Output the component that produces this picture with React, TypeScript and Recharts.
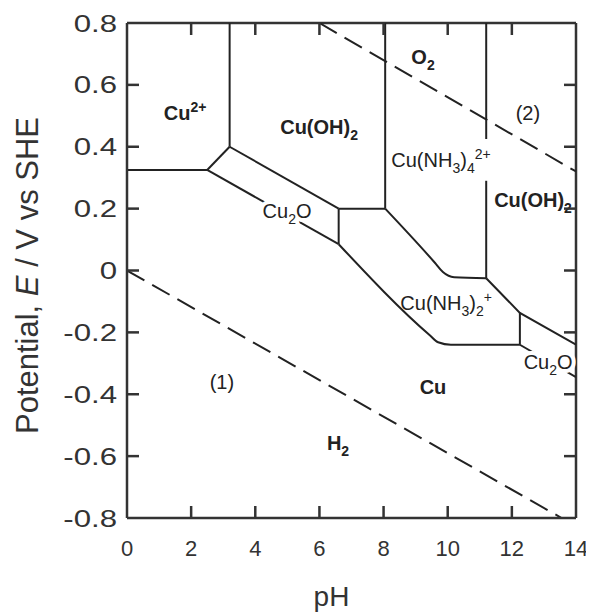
import React from "react"
import { ComposedChart, Line, Scatter, XAxis, YAxis, ReferenceLine } from "recharts"

const phTicks = [0, 2, 4, 6, 8, 10, 12, 14]
const eTicks = [-0.8, -0.6, -0.4, -0.2, 0, 0.2, 0.4, 0.6, 0.8]

// phase boundaries, [pH, E]
const cu2VsCuOH2 = [[3.2, 0.8], [3.2, 0.4]]
const cu2VsCu = [[0, 0.325], [2.5, 0.325]]
const cu2VsCu2O = [[2.5, 0.325], [3.2, 0.4]]
const cuOH2VsCu2O = [[3.2, 0.4], [6.6, 0.2]]
const cu2OVsCu = [[2.5, 0.325], [6.6, 0.085]]
const cu2OVsAm1 = [[6.6, 0.085], [6.6, 0.2]]
const cuOH2VsAm1 = [[6.6, 0.2], [8.05, 0.2]]
const cuOH2VsAm4 = [[8.05, 0.2], [8.05, 0.8]]
const am4VsAm1 = [[8.05, 0.2], [9.6, 0.025], [9.85, -0.005], [10.2, -0.022], [11.2, -0.025]]
const am4VsCuOH2Top = [[11.2, 0.8], [11.2, 0.425]]
const am4VsCuOH2Low = [[11.2, 0.29], [11.2, -0.025]]
const cuOH2VsAm1Right = [[11.2, -0.025], [12.25, -0.137], [14, -0.24]]
const cu2OVsAm1Right = [[12.25, -0.137], [12.25, -0.24]]
const am1VsCu = [[6.6, 0.085], [9.45, -0.21], [9.7, -0.232], [10.1, -0.24], [12.25, -0.24]]
const cu2OVsCuRight = [[12.25, -0.24], [14, -0.345]]

// water stability limits (dashed)
const h2Line = [[0, 0], [13.55, -0.8]]
const o2Line = [[6.0, 0.8], [14, 0.32]]

const solidLines = [
  cu2VsCuOH2, cu2VsCu, cu2VsCu2O, cuOH2VsCu2O, cu2OVsCu, cu2OVsAm1, cuOH2VsAm1,
  cuOH2VsAm4, am4VsCuOH2Top, am4VsCuOH2Low, cuOH2VsAm1Right, cu2OVsAm1Right,
  cu2OVsCuRight,
]
const curvedLines = [am4VsAm1, am1VsCu]
const dashedLines = [h2Line, o2Line]

// region labels
const labelNames = [
  "Cu^{2+}", "Cu(OH)_2", "Cu_2O", "O_2", "(2)", "Cu(NH_3)_4^{2+}",
  "Cu(OH)_2", "Cu(NH_3)_2^+", "Cu_2O", "Cu", "(1)", "H_2",
]
const labelPh = [1.81, 5.99, 4.99, 9.23, 12.5, 9.79, 12.66, 9.95, 13.13, 9.54, 2.96, 6.58]
const labelE = [0.51, 0.464, 0.193, 0.69, 0.51, 0.357, 0.228, -0.104, -0.295, -0.376, -0.36, -0.557]

const toPts = (arr: number[][]) => arr.map(([ph, e]) => ({ ph, e }))
const labelData = labelNames.map((name, i) => ({ name, ph: labelPh[i], e: labelE[i] }))

const boldNames = new Set(["Cu^{2+}", "O_2", "Cu", "H_2", "Cu(OH)_2"])
const haloIdx = new Set([2, 8])

const INK = "#222"
const AXIS = "#333"

// layout
const W = 580
const H = 605
const MARGIN = { top: 15, right: 12, bottom: 0, left: 0 }
const Y_W = 119
const X_H = 95
const PLOT_L = MARGIN.left + Y_W
const PLOT_R = W - MARGIN.right
const PLOT_T = MARGIN.top
const PLOT_B = H - MARGIN.bottom - X_H
const TICK = 12

function splitName(name: string) {
  const out: { t: string; k: string }[] = []
  const re = /([_^])(\{[^}]*\}|.)/g
  let last = 0
  let m: RegExpExecArray | null
  while ((m = re.exec(name))) {
    if (m.index > last) out.push({ t: name.slice(last, m.index), k: "n" })
    out.push({ t: m[2].replace(/[{}]/g, ""), k: m[1] === "_" ? "sub" : "sup" })
    last = re.lastIndex
  }
  if (last < name.length) out.push({ t: name.slice(last), k: "n" })
  return out
}

const NameText = ({ x, y, name, halo }: any) => {
  const bits = splitName(name)
  let cur = 0
  return (
    <text
      x={x}
      y={y}
      textAnchor="middle"
      fontSize={20}
      fontWeight={boldNames.has(name) ? 700 : 400}
      fill={halo ? "#fff" : INK}
      stroke={halo ? "#fff" : "none"}
      strokeWidth={halo ? 8 : 0}
      strokeLinejoin="round"
    >
      {bits.map((b, i) => {
        const target = b.k === "sub" ? 6 : b.k === "sup" ? -8 : 0
        const dy = target - cur
        cur = target
        return (
          <tspan key={i} dy={dy} fontSize={b.k === "n" ? 20 : 14}>
            {b.t}
          </tspan>
        )
      })}
    </text>
  )
}

const SpeciesLabel = (props: any) => {
  const { cx, cy, payload, index } = props
  if (cx == null || cy == null) return null
  return (
    <g>
      {haloIdx.has(index) && <NameText x={cx} y={cy + 7} name={payload.name} halo />}
      <NameText x={cx} y={cy + 7} name={payload.name} />
    </g>
  )
}

// inward ticks on bottom and top, labels under the plot
const PhTick = (props: any) => {
  const { x, payload } = props
  const v = payload.value
  const inner = v > 0 && v < 14
  return (
    <g>
      {inner && <line x1={x} x2={x} y1={PLOT_B} y2={PLOT_B - TICK} stroke={AXIS} strokeWidth={2.5} />}
      {inner && <line x1={x} x2={x} y1={PLOT_T} y2={PLOT_T + TICK} stroke={AXIS} strokeWidth={2.5} />}
      <text x={x} y={PLOT_B + 38} textAnchor="middle" fontSize={22} fill={AXIS}>
        {v}
      </text>
    </g>
  )
}

// inward ticks on left and right, labels drawn a bit wide like the original
const ETick = (props: any) => {
  const { y, payload } = props
  const v = payload.value
  const inner = v > -0.8 + 1e-9 && v < 0.8 - 1e-9
  const txt = Math.abs(v) < 1e-9 ? "0" : v.toFixed(1)
  return (
    <g>
      {inner && <line x1={PLOT_L} x2={PLOT_L + TICK} y1={y} y2={y} stroke={AXIS} strokeWidth={2.5} />}
      {inner && <line x1={PLOT_R - TICK} x2={PLOT_R} y1={y} y2={y} stroke={AXIS} strokeWidth={2.5} />}
      <g transform={`translate(${PLOT_L - 10},${y}) scale(1.3,1)`}>
        <text x={0} y={8.5} textAnchor="end" fontSize={24} fill={AXIS}>
          {txt}
        </text>
      </g>
    </g>
  )
}

const YTitle = (props: any) => {
  const vb = props.viewBox || {}
  const x = vb.x + 19
  const y = vb.y + vb.height / 2 + 5
  return (
    <text
      x={x}
      y={y}
      transform={`rotate(-90, ${x}, ${y})`}
      textAnchor="middle"
      dominantBaseline="central"
      fontSize={31}
      fill={AXIS}
    >
      Potential, <tspan fontStyle="italic">E</tspan> / V vs SHE
    </text>
  )
}

const XTitle = () => (
  <text x={(PLOT_L + PLOT_R) / 2 - 20} y={PLOT_B + 88} textAnchor="middle" fontSize={28} fill={AXIS}>
    pH
  </text>
)

export default function App() {
  return (
    <div style={{ width: W, height: H, fontFamily: '"Liberation Sans", Arial, sans-serif' }}>
      <ComposedChart width={W} height={H} margin={MARGIN}>
        <XAxis
          xAxisId="b"
          dataKey="ph"
          type="number"
          domain={[0, 14]}
          ticks={phTicks}
          interval={0}
          height={X_H}
          tickLine={false}
          tickSize={0}
          stroke={AXIS}
          strokeWidth={2.5}
          tick={<PhTick />}
          allowDataOverflow
          label={<XTitle />}
        />
        <YAxis
          yAxisId="l"
          dataKey="e"
          type="number"
          domain={[-0.8, 0.8]}
          ticks={eTicks}
          interval={0}
          width={Y_W}
          tickLine={false}
          tickSize={0}
          stroke={AXIS}
          strokeWidth={2.5}
          tick={<ETick />}
          allowDataOverflow
          label={<YTitle />}
        />
        <ReferenceLine xAxisId="b" yAxisId="l" y={0.8} stroke={AXIS} strokeWidth={2.5} />
        <ReferenceLine xAxisId="b" yAxisId="l" x={14} stroke={AXIS} strokeWidth={2.5} />
        {solidLines.map((d, i) => (
          <Line
            key={"s" + i}
            xAxisId="b"
            yAxisId="l"
            data={toPts(d)}
            dataKey="e"
            type="linear"
            stroke={INK}
            strokeWidth={2}
            dot={false}
            activeDot={false}
            isAnimationActive={false}
          />
        ))}
        {curvedLines.map((d, i) => (
          <Line
            key={"c" + i}
            xAxisId="b"
            yAxisId="l"
            data={toPts(d)}
            dataKey="e"
            type="monotone"
            stroke={INK}
            strokeWidth={2}
            dot={false}
            activeDot={false}
            isAnimationActive={false}
          />
        ))}
        {dashedLines.map((d, i) => (
          <Line
            key={"d" + i}
            xAxisId="b"
            yAxisId="l"
            data={toPts(d)}
            dataKey="e"
            type="linear"
            stroke={INK}
            strokeWidth={2}
            strokeDasharray="20 9"
            dot={false}
            activeDot={false}
            isAnimationActive={false}
          />
        ))}
        <Scatter
          xAxisId="b"
          yAxisId="l"
          data={labelData}
          dataKey="e"
          shape={<SpeciesLabel />}
          isAnimationActive={false}
        />
      </ComposedChart>
    </div>
  )
}
